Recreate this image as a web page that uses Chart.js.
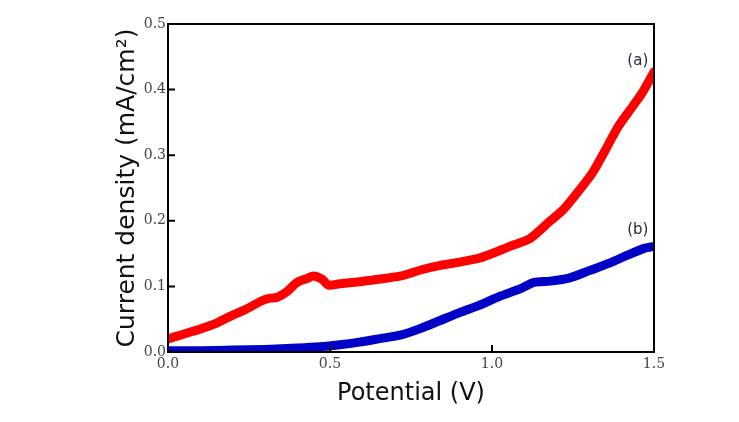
<!DOCTYPE html>
<html>
<head>
<meta charset="utf-8">
<script src="https://cdn.jsdelivr.net/npm/chart.js@4"></script>
<style>
  html, body { margin: 0; padding: 0; background: #fff; }
  #wrap { width: 739px; height: 422px; }
</style>
</head>
<body>
<div id="wrap"><canvas id="grafico" width="739" height="422"></canvas></div>
<script>
// curva (a)
const potencialA = [0.0, 0.04, 0.10, 0.15, 0.19, 0.24, 0.285, 0.315, 0.336, 0.367, 0.398, 0.429, 0.449, 0.475, 0.495,
  0.53, 0.59, 0.65, 0.72, 0.78, 0.84, 0.90, 0.96, 1.0, 1.055, 1.117, 1.178, 1.22, 1.27, 1.31, 1.35, 1.39, 1.435, 1.466, 1.5];
const correnteA = [0.020, 0.026, 0.035, 0.044, 0.054, 0.065, 0.077, 0.082, 0.083, 0.092, 0.106, 0.112, 0.116, 0.111, 0.102,
  0.104, 0.107, 0.111, 0.116, 0.125, 0.132, 0.137, 0.143, 0.150, 0.161, 0.173, 0.199, 0.217, 0.247, 0.273, 0.308, 0.344, 0.375, 0.397, 0.427];

// curva (b)
const potencialB = [0.0, 0.1, 0.2, 0.3, 0.4, 0.47, 0.53, 0.59, 0.65, 0.72, 0.78, 0.84, 0.90, 0.96, 1.02,
  1.09, 1.13, 1.18, 1.24, 1.30, 1.36, 1.42, 1.47, 1.5];
const correnteB = [0.002, 0.002, 0.003, 0.004, 0.006, 0.008, 0.011, 0.015, 0.020, 0.026, 0.036, 0.048, 0.060, 0.071, 0.084,
  0.097, 0.106, 0.108, 0.113, 0.124, 0.135, 0.148, 0.158, 0.161];

const ticksX = ['0.0', '0.5', '1.0', '1.5'];
const ticksY = ['0.0', '0.1', '0.2', '0.3', '0.4', '0.5'];
const rotulos = [
  { texto: '(a)', x: 1.45, y: 0.443 },
  { texto: '(b)', x: 1.45, y: 0.186 }
];

function pontos(xs, ys) {
  return xs.map((x, i) => ({ x: x, y: ys[i] }));
}

// moldura, tracinhos para dentro e rotulos (a)/(b)
const moldura = {
  id: 'moldura',
  afterDatasetsDraw(chart) {
    const { ctx, chartArea: a, scales } = chart;
    ctx.save();
    ctx.strokeStyle = '#000';
    ctx.lineWidth = 2;
    ctx.strokeRect(a.left, a.top, a.right - a.left, a.bottom - a.top);
    ctx.beginPath();
    scales.y.ticks.forEach(t => {
      const py = scales.y.getPixelForValue(t.value);
      ctx.moveTo(a.left, py);
      ctx.lineTo(a.left + 7, py);
    });
    scales.x.ticks.forEach(t => {
      const px = scales.x.getPixelForValue(t.value);
      ctx.moveTo(px, a.bottom);
      ctx.lineTo(px, a.bottom - 7);
    });
    ctx.stroke();
    ctx.fillStyle = '#2a2a3a';
    ctx.font = '15px "DejaVu Sans"';
    ctx.textAlign = 'center';
    ctx.textBaseline = 'middle';
    rotulos.forEach(r => {
      ctx.fillText(r.texto, scales.x.getPixelForValue(r.x), scales.y.getPixelForValue(r.y));
    });
    ctx.restore();
  }
};

const serieBase = {
  showLine: true,
  pointRadius: 0,
  borderWidth: 9,
  borderCapStyle: 'round',
  borderJoinStyle: 'round',
  tension: 0.25,
  fill: false
};

new Chart(document.getElementById('grafico'), {
  type: 'scatter',
  data: {
    datasets: [
      Object.assign({ label: '(b)', data: pontos(potencialB, correnteB), borderColor: '#0000c8' }, serieBase),
      Object.assign({ label: '(a)', data: pontos(potencialA, correnteA), borderColor: '#ff0000' }, serieBase)
    ]
  },
  options: {
    responsive: false,
    animation: false,
    layout: { padding: { left: 112, right: 85, top: 24, bottom: 14 } },
    plugins: { legend: { display: false }, tooltip: { enabled: false } },
    scales: {
      x: {
        type: 'linear',
        min: 0, max: 1.5,
        afterFit: s => { s.height = 56; },
        grid: { display: false, drawTicks: false },
        border: { display: false },
        ticks: {
          stepSize: 0.5,
          padding: 4,
          maxRotation: 0,
          autoSkip: false,
          color: '#444',
          font: { family: '"DejaVu Serif"', size: 14 },
          callback: (v, i) => ticksX[i]
        },
        title: {
          display: true,
          text: 'Potential (V)',
          color: '#111',
          padding: 0,
          font: { family: '"DejaVu Sans"', size: 24 }
        }
      },
      y: {
        min: 0, max: 0.5,
        afterFit: s => { s.width = 56; },
        grid: { display: false, drawTicks: false },
        border: { display: false },
        ticks: {
          stepSize: 0.1,
          padding: 2,
          color: '#444',
          font: { family: '"DejaVu Serif"', size: 14 },
          callback: (v, i) => ticksY[i]
        },
        title: {
          display: true,
          text: 'Current density (mA/cm²)',
          color: '#111',
          padding: 0,
          font: { family: '"DejaVu Sans"', size: 25 }
        }
      }
    }
  },
  plugins: [moldura]
});
</script>
</body>
</html>
